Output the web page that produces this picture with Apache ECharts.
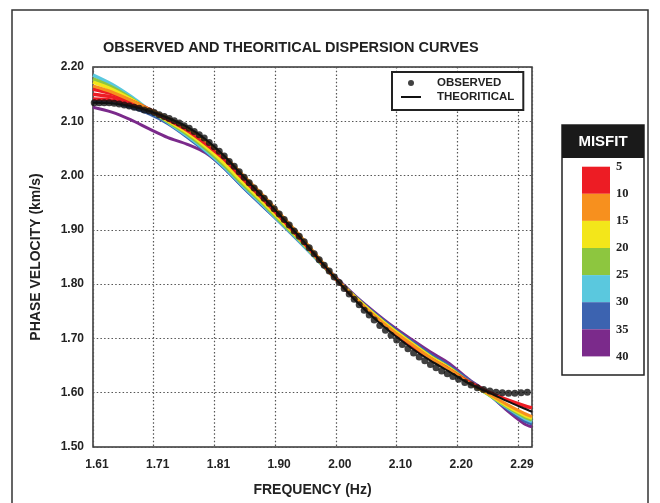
<!DOCTYPE html>
<html><head><meta charset="utf-8">
<script src="https://cdn.jsdelivr.net/npm/echarts@6/dist/echarts.min.js"></script>
<style>html,body{margin:0;padding:0;background:#fff}#c{width:660px;height:503px}</style>
</head><body><div id="c"></div>
<script>
// ---- axis labels / ranges ----
const xTickLabels = ['1.61','1.71','1.81','1.90','2.00','2.10','2.20','2.29'];
const xTickFirst = 1.61, xTickLast = 2.29, xMax = 2.3125;
const yMin = 1.5, yMax = 2.2, yStep = 0.1;

// ---- observed dispersion points (Hz, km/s) ----
const obsFreq = [1.612,1.620,1.628,1.636,1.644,1.652,1.660,1.668,1.676,1.684,1.692,1.700,1.708,1.716,1.724,1.732,1.740,1.748,1.756,1.764,1.772,1.780,1.788,1.796,1.804,1.812,1.820,1.828,1.836,1.844,1.852,1.860,1.868,1.876,1.884,1.892,1.900,1.908,1.916,1.924,1.932,1.940,1.948,1.956,1.964,1.972,1.980,1.988,1.996,2.004,2.012,2.020,2.028,2.036,2.044,2.052,2.060,2.069,2.078,2.087,2.096,2.105,2.114,2.123,2.132,2.141,2.150,2.159,2.168,2.177,2.186,2.195,2.205,2.215,2.225,2.235,2.245,2.255,2.265,2.275,2.285,2.295,2.305];
const obsVel = [2.134,2.134,2.134,2.134,2.133,2.132,2.130,2.128,2.126,2.124,2.121,2.119,2.116,2.112,2.109,2.105,2.101,2.097,2.092,2.087,2.081,2.075,2.069,2.061,2.053,2.045,2.036,2.026,2.017,2.007,1.997,1.987,1.977,1.968,1.958,1.949,1.939,1.929,1.919,1.909,1.898,1.888,1.878,1.867,1.856,1.845,1.835,1.824,1.813,1.803,1.792,1.782,1.772,1.762,1.752,1.743,1.734,1.724,1.715,1.706,1.697,1.689,1.681,1.673,1.666,1.659,1.652,1.646,1.640,1.635,1.630,1.625,1.619,1.614,1.609,1.606,1.603,1.601,1.600,1.599,1.599,1.600,1.601];

// ---- theoretical curves (sampled at curveFreq) ----
const curveFreq = [1.61,1.64,1.67,1.70,1.73,1.76,1.79,1.82,1.85,1.88,1.91,1.94,1.97,2.00,2.03,2.06,2.09,2.12,2.15,2.18,2.21,2.24,2.27,2.30,2.3125];
const theoVel   = [2.134,2.133,2.128,2.119,2.106,2.090,2.067,2.036,1.999,1.963,1.926,1.888,1.848,1.808,1.770,1.737,1.708,1.682,1.659,1.639,1.618,1.602,1.586,1.571,1.565];
const velRed    = [2.150,2.145,2.135,2.121,2.103,2.084,2.059,2.030,1.994,1.959,1.923,1.886,1.847,1.808,1.772,1.740,1.712,1.687,1.663,1.643,1.621,1.603,1.588,1.576,1.572];
const velOrange = [2.165,2.154,2.139,2.122,2.106,2.088,2.064,2.036,2.001,1.966,1.929,1.891,1.850,1.809,1.773,1.742,1.714,1.689,1.664,1.643,1.619,1.600,1.580,1.562,1.556];
const velYellow = [2.172,2.159,2.141,2.121,2.101,2.080,2.054,2.023,1.988,1.954,1.919,1.884,1.846,1.808,1.775,1.744,1.716,1.691,1.666,1.645,1.620,1.600,1.578,1.559,1.553];
const velGreen  = [2.178,2.163,2.143,2.120,2.099,2.077,2.050,2.019,1.984,1.951,1.916,1.882,1.845,1.808,1.775,1.744,1.716,1.691,1.667,1.646,1.621,1.599,1.576,1.556,1.550];
const velCyan   = [2.185,2.168,2.146,2.121,2.098,2.074,2.047,2.016,1.981,1.948,1.914,1.880,1.844,1.808,1.774,1.743,1.715,1.690,1.666,1.645,1.621,1.599,1.575,1.553,1.547];
const velBlue   = [2.139,2.135,2.126,2.114,2.096,2.072,2.045,2.014,1.979,1.946,1.913,1.879,1.844,1.808,1.776,1.746,1.719,1.694,1.670,1.649,1.624,1.600,1.573,1.549,1.543];
const velPurple = [2.126,2.117,2.103,2.086,2.070,2.058,2.042,2.014,1.979,1.946,1.914,1.881,1.846,1.811,1.778,1.749,1.722,1.698,1.675,1.654,1.626,1.601,1.570,1.543,1.537];
// extra low-misfit curves in the low-frequency fan
const fanFreq = [1.61,1.64,1.67,1.70,1.73];
const velRedUpper = [2.159,2.151,2.138,2.122,2.104];
const velRedLower = [2.141,2.139,2.132,2.120,2.103];

// ---- misfit colour scale ----
const misfitTicks = ['5','10','15','20','25','30','35','40'];
const misfitColors = ['#ed1c24','#f7901e','#f3e61a','#8dc63f','#5ac8de','#3c63b0','#7b2a8b'];

const FONT = '"Liberation Sans", Arial, sans-serif';
const xStep = (xTickLast - xTickFirst) / (xTickLabels.length - 1);

function pts(freq, vel){ return freq.map((f,i)=>[f, vel[i]]); }
function curve(name, freq, vel, color, width, z){
  return {type:'line', name, data: pts(freq, vel), smooth:0.3, symbol:'none', showSymbol:false,
    lineStyle:{color, width}, itemStyle:{color}, z, silent:true, animation:false};
}

const series = [
  curve('m40', curveFreq, velPurple, misfitColors[6], 3, 2),
  curve('m35', curveFreq, velBlue,   misfitColors[5], 3.5, 2),
  curve('m30', curveFreq, velCyan,   misfitColors[4], 3.5, 2),
  curve('m25', curveFreq, velGreen,  misfitColors[3], 3.5, 2),
  curve('m20', curveFreq, velYellow, misfitColors[2], 3.5, 2),
  curve('m5a', fanFreq, velRedUpper, misfitColors[0], 3.5, 2),
  curve('m5b', fanFreq, velRedLower, misfitColors[0], 3.5, 2),
  curve('m5',  curveFreq, velRed,    misfitColors[0], 3.5, 2),
  curve('m10', curveFreq, velOrange, misfitColors[1], 3, 2),
  curve('THEORITICAL', curveFreq, theoVel, '#111', 2, 3),
  {type:'scatter', name:'OBSERVED', data: pts(obsFreq, obsVel), symbol:'circle', symbolSize:7,
    itemStyle:{color:'#111'}, z:4, silent:true}
];

// colour bar graphic
const barX = 582, barW = 28, barTop = 166.7, barH = 27.1;
const graphic = [
  {type:'rect', shape:{x:12, y:10, width:636, height:520}, style:{fill:'none', stroke:'#333', lineWidth:1.5}, z:0},
  {type:'rect', shape:{x:562, y:125, width:82, height:250}, style:{fill:'#fff', stroke:'#222', lineWidth:1.5}, z:1},
  {type:'rect', shape:{x:562, y:125, width:82, height:33}, style:{fill:'#1a1a1a'}, z:2},
  {type:'text', x:603, y:142, style:{text:'MISFIT', fill:'#fff', font:'bold 15px '+FONT, align:'center', verticalAlign:'middle', textAlign:'center', textVerticalAlign:'middle'}, z:3}
];
misfitColors.forEach((c,i)=>{
  graphic.push({type:'rect', shape:{x:barX, y:barTop+i*barH, width:barW, height:barH}, style:{fill:c}, z:2});
});
misfitTicks.forEach((t,i)=>{
  graphic.push({type:'text', x:616, y:barTop+i*barH, style:{text:t, fill:'#222', font:'bold 12.5px "Liberation Serif", "Times New Roman", serif', align:'left', verticalAlign:'middle', textAlign:'left', textVerticalAlign:'middle'}, z:3});
});

const chart = echarts.init(document.getElementById('c'), null, {renderer:'canvas'});
chart.setOption({
  animation:false,
  backgroundColor:'#fff',
  title:{text:'OBSERVED AND THEORITICAL DISPERSION CURVES', left:103, top:40, padding:0,
    textStyle:{fontSize:14.5, fontWeight:'bold', color:'#222', fontFamily:FONT}},
  grid:{left:93, top:67, width:439, height:380, show:true, borderColor:'#333', borderWidth:1.5, backgroundColor:'transparent'},
  legend:{data:[{name:'OBSERVED', icon:'circle'}, {name:'THEORITICAL', icon:'path://M0,0L20,0L20,2L0,2Z'}], orient:'vertical', left:392, top:72,
    padding:[4,9,6,9], itemGap:0, itemWidth:20, itemHeight:6, selectedMode:false,
    borderColor:'#222', borderWidth:2, backgroundColor:'#fff',
    textStyle:{fontSize:11.5, fontWeight:'bold', color:'#222', fontFamily:FONT, lineHeight:14, padding:[0,0,0,11]}},
  xAxis:{type:'value', min:xTickFirst, max:xMax, interval:xStep,
    name:'FREQUENCY (Hz)', nameLocation:'middle', nameGap:36,
    nameTextStyle:{fontSize:14, fontWeight:'bold', color:'#222', fontFamily:FONT},
    axisLine:{show:false}, axisTick:{show:false},
    axisLabel:{margin:12, fontSize:12, fontWeight:'bold', color:'#222', fontFamily:FONT, padding:[0,0,0,8],
      formatter:(v)=>{const i=Math.round((v-xTickFirst)/xStep); return (i>=0 && i<xTickLabels.length && Math.abs(v-(xTickFirst+i*xStep))<1e-6)? xTickLabels[i] : '';}},
    splitLine:{show:true, lineStyle:{color:'#555', width:1.2, type:[1.5,2.2]}}},
  yAxis:{type:'value', min:yMin, max:yMax, interval:yStep,
    name:'PHASE VELOCITY (km/s)', nameLocation:'middle', nameGap:50, nameRotate:90,
    nameTextStyle:{fontSize:14, fontWeight:'bold', color:'#222', fontFamily:FONT},
    axisLine:{show:false}, axisTick:{show:false},
    axisLabel:{margin:9, fontSize:12, fontWeight:'bold', color:'#222', fontFamily:FONT, formatter:(v)=>v.toFixed(2)},
    splitLine:{show:true, lineStyle:{color:'#555', width:1.2, type:[1.5,2.2]}}},
  graphic,
  series
});
</script></body></html>
